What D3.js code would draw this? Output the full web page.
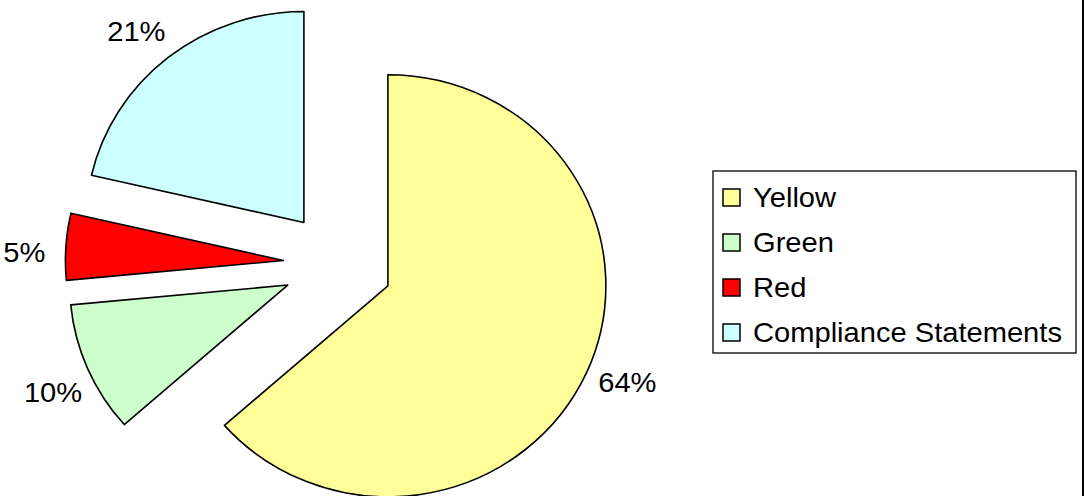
<!DOCTYPE html>
<html>
<head>
<meta charset="utf-8">
<script src="https://cdn.jsdelivr.net/npm/d3@7"></script>
<style>
  body { margin: 0; background: #fff; }
  svg { display: block; font-family: Arial, "Liberation Sans", sans-serif; }
</style>
</head>
<body>
<div id="chart"></div>
<script>
// data (percent shares)
const categories = ['Yellow', 'Green', 'Red', 'Compliance Statements'];
const values = [63.5, 10.0, 5.1, 21.4];
const colors = ['#FFFF99', '#CCFFCC', '#FF0000', '#CCFFFF'];

const width = 1085, height = 496;
const svg = d3.select('#chart').append('svg')
    .attr('width', width)
    .attr('height', height);

// right edge frame line
svg.append('rect')
    .attr('x', 1082).attr('y', 0)
    .attr('width', 2).attr('height', height)
    .attr('fill', '#000');

// pie geometry
const cx = 338, cy = 264;
const r = 211, sx = 1.033;   // picture is slightly stretched horizontally
const explode = 53;
const labelDist = 304;
const labelTurn = -0.025;    // labels sit a touch anticlockwise of the mid angle
const textScale = 1.04;

const pie = d3.pie().sort(null).value(d => d)(values);
const arc = d3.arc().innerRadius(0).outerRadius(r);
const mid = d => (d.startAngle + d.endAngle) / 2;

const g = svg.append('g').attr('transform', `translate(${cx},${cy})`);

const slices = g.selectAll('g.slice')
    .data(pie)
    .enter().append('g')
    .attr('class', 'slice')
    .attr('transform', d => {
        const m = mid(d);
        const ox = sx * explode * Math.sin(m), oy = -explode * Math.cos(m);
        return `translate(${ox},${oy}) scale(${sx},1)`;
    });

slices.append('path')
    .attr('d', arc)
    .attr('fill', (d, i) => colors[i])
    .attr('stroke', '#000')
    .attr('stroke-width', 1.6)
    .attr('vector-effect', 'non-scaling-stroke')
    .attr('stroke-linejoin', 'round');

// percentage labels
g.selectAll('text.pct')
    .data(pie)
    .enter().append('text')
    .attr('class', 'pct')
    .attr('transform', d => {
        const m = mid(d) + labelTurn;
        const x = sx * labelDist * Math.sin(m);
        const y = -labelDist * Math.cos(m) + 10;
        return `translate(${x},${y}) scale(${textScale},1)`;
    })
    .attr('text-anchor', 'middle')
    .attr('font-size', '28px')
    .attr('fill', '#000')
    .text(d => Math.round(d.value) + '%');

// legend
const legend = svg.append('g').attr('transform', 'translate(713,171)');
legend.append('rect')
    .attr('width', 363).attr('height', 182)
    .attr('fill', '#fff')
    .attr('stroke', '#000')
    .attr('stroke-width', 1.3);

const item = legend.selectAll('g.item')
    .data(categories)
    .enter().append('g')
    .attr('class', 'item')
    .attr('transform', (d, i) => `translate(0,${i * 45})`);

item.append('rect')
    .attr('x', 10).attr('y', 18)
    .attr('width', 17).attr('height', 17)
    .attr('fill', (d, i) => colors[i])
    .attr('stroke', '#000')
    .attr('stroke-width', 1.5);

item.append('text')
    .attr('transform', `translate(40,36) scale(${textScale},1)`)
    .attr('font-size', '28px')
    .attr('fill', '#000')
    .text(d => d);
</script>
</body>
</html>
